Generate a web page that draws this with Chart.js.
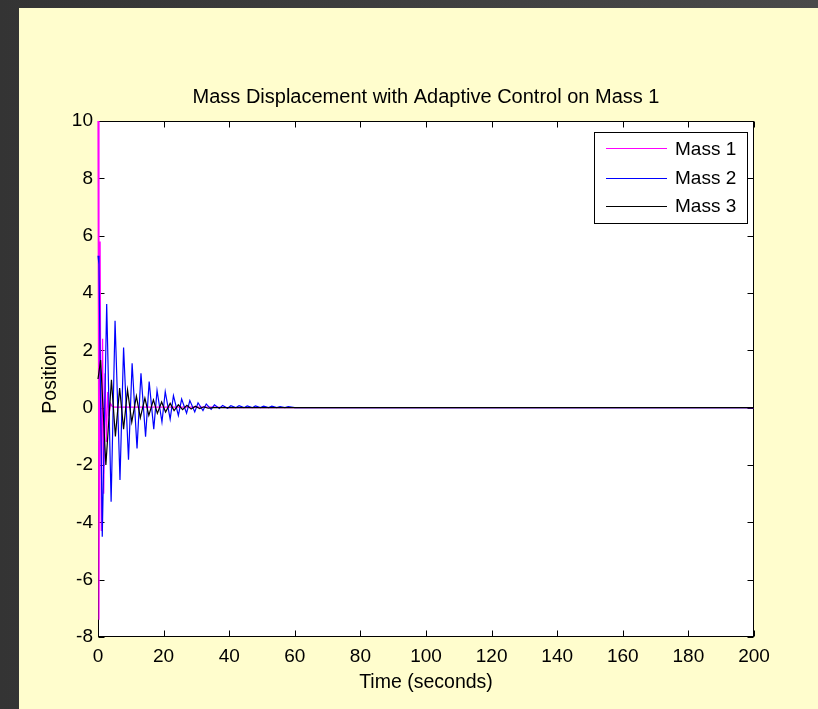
<!DOCTYPE html>
<html>
<head>
<meta charset="utf-8">
<script src="https://cdn.jsdelivr.net/npm/chart.js@4.4.1/dist/chart.umd.min.js"></script>
<style>
  html, body { margin: 0; padding: 0; background: #3d3d3d; }
  canvas { display: block; }
</style>
</head>
<body>
<canvas id="chart" width="818" height="709"></canvas>
<script>
// Mass 1: fast, strongly damped response under adaptive control
const mass1Time = [0, 0.3, 0.65, 1.0, 1.4, 1.75, 2.15, 2.55, 2.95, 3.35, 3.8, 4.3, 5, 35, 40, 200];
const mass1Pos  = [10, -7.4, 5.8, -4.3, 2.4, -3.0, 1.2, -1.2, 0.55, -0.3, 0.15, 0.05, 0.02, 0.02, 0, 0];

// Mass 2: slowly decaying oscillation
const mass2Time = [0, 0.3, 1.3, 2.65, 4.0, 5.2, 6.7, 7.8, 9.3, 10.4, 11.9, 13.1, 14.5, 15.6, 17.0, 18.0,
                   19.5, 20.5, 22.0, 23.0, 24.5, 25.5, 27.0, 28.0, 29.5, 30.5, 32.0, 33.0, 34.5, 35.5,
                   37, 38, 39.5, 40.5, 42, 43, 44.5, 45.5, 47, 48, 49.5, 50.5, 52, 53, 54.5, 55.5, 57, 58, 60, 200];
const mass2Pos  = [5.3, 5.0, -4.5, 3.62, -3.28, 3.03, -2.52, 2.1, -1.82, 1.55, -1.42, 1.2, -1.01, 0.91, -0.75, 0.6,
                   -0.5, 0.56, -0.4, 0.42, -0.27, 0.3, -0.19, 0.25, -0.15, 0.17, -0.1, 0.13, -0.06, 0.1,
                   -0.03, 0.08, -0.02, 0.07, 0, 0.07, 0, 0.06, 0, 0.06, 0, 0.05, 0, 0.05, 0, 0.04, 0, 0.04, 0, 0];

// Mass 3: smaller oscillation coupled through mass 2
const mass3Time = [0, 0.8, 2.4, 4.1, 5.3, 6.6, 7.8, 9.0, 10.3, 11.7, 12.9, 14.3, 15.5, 16.9, 18.1, 19.4,
                   20.6, 22.0, 23.2, 24.5, 25.8, 27.1, 28.4, 29.7, 31.0, 32.3, 33.6, 35, 200];
const mass3Pos  = [1.0, 1.66, -2.0, 0.97, -1.0, 0.68, -0.75, 0.62, -0.5, 0.4, -0.35, 0.33, -0.27, 0.27, -0.2, 0.2,
                   -0.15, 0.15, -0.1, 0.1, -0.07, 0.08, -0.05, 0.05, -0.03, 0.03, -0.02, 0, 0];

const seriesLabels = ['Mass 1', 'Mass 2', 'Mass 3'];
const seriesColors = ['#FF00FF', '#0000FF', '#000000'];

const xTicks = [0, 20, 40, 60, 80, 100, 120, 140, 160, 180, 200];
const yTicks = [-8, -6, -4, -2, 0, 2, 4, 6, 8, 10];

const FONT = 'Liberation Sans, Arial, Helvetica, sans-serif';
const CREAM = '#FFFDCD';

function zip(ts, vs) { return ts.map((t, i) => ({ x: t, y: vs[i] })); }

// Figure background, white axes panel, box and inward tick marks (under the data)
const axesBox = {
  id: 'axesBox',
  beforeDraw(chart) {
    const { ctx, width, height, chartArea: a } = chart;
    ctx.save();
    const g = ctx.createLinearGradient(0, 0, width, 0);
    g.addColorStop(0, '#343434');
    g.addColorStop(1, '#4a4a4a');
    ctx.fillStyle = g;
    ctx.fillRect(0, 0, width, height);
    ctx.fillStyle = CREAM;
    ctx.fillRect(19, 8, width - 19, height - 8);
    ctx.fillStyle = '#FFFFFF';
    ctx.fillRect(a.left, a.top, a.right - a.left, a.bottom - a.top);
    ctx.restore();
  },
  beforeDatasetsDraw(chart) {
    const { ctx, chartArea: a, scales } = chart;
    ctx.save();
    const L = Math.round(a.left) + 0.5, R = Math.round(a.right) - 0.5;
    const T = Math.round(a.top) + 0.5, B = Math.round(a.bottom) - 0.5;
    ctx.strokeStyle = '#000';
    ctx.lineWidth = 1;
    ctx.strokeRect(L, T, R - L, B - T);
    const tl = 6;
    ctx.beginPath();
    scales.x.ticks.forEach(t => {
      const px = Math.round(scales.x.getPixelForValue(t.value)) + 0.5;
      ctx.moveTo(px, B); ctx.lineTo(px, B - tl);
      ctx.moveTo(px, T); ctx.lineTo(px, T + tl);
    });
    scales.y.ticks.forEach(t => {
      const py = Math.round(scales.y.getPixelForValue(t.value)) + 0.5;
      ctx.moveTo(L, py); ctx.lineTo(L + tl, py);
      ctx.moveTo(R, py); ctx.lineTo(R - tl, py);
    });
    ctx.stroke();
    ctx.restore();
  }
};

// Title and legend box, drawn over the data
const overlay = {
  id: 'overlay',
  afterDraw(chart) {
    const { ctx, chartArea: a } = chart;
    ctx.save();
    ctx.fillStyle = '#000';
    ctx.font = '20px ' + FONT;
    ctx.textAlign = 'center';
    ctx.textBaseline = 'middle';
    ctx.fillText('Mass Displacement with Adaptive Control on Mass 1', (a.left + a.right) / 2, 97);

    const lx = 594.5, ly = 132.5, lw = 153, lh = 91;
    ctx.fillStyle = '#FFFFFF';
    ctx.fillRect(lx, ly, lw, lh);
    ctx.lineWidth = 1;
    ctx.strokeStyle = '#000000';
    ctx.strokeRect(lx, ly, lw, lh);
    const rows = [148, 178, 206];
    ctx.font = '19px ' + FONT;
    ctx.textAlign = 'left';
    for (let i = 0; i < seriesLabels.length; i++) {
      ctx.beginPath();
      ctx.strokeStyle = seriesColors[i];
      ctx.lineWidth = 1.2;
      ctx.moveTo(606, rows[i] + 0.5);
      ctx.lineTo(667, rows[i] + 0.5);
      ctx.stroke();
      ctx.fillStyle = '#000';
      ctx.fillText(seriesLabels[i], 675, [149, 177.5, 206][i] + 1);
    }
    ctx.restore();
  }
};

const tickFont = { family: FONT, size: 19 };
const labelFont = { family: FONT, size: 19.5 };

new Chart(document.getElementById('chart'), {
  type: 'line',
  data: {
    datasets: [
      { label: seriesLabels[0], data: zip(mass1Time, mass1Pos), borderColor: seriesColors[0], order: 3 },
      { label: seriesLabels[1], data: zip(mass2Time, mass2Pos), borderColor: seriesColors[1], order: 2 },
      { label: seriesLabels[2], data: zip(mass3Time, mass3Pos), borderColor: seriesColors[2], order: 1 }
    ]
  },
  options: {
    responsive: false,
    animation: false,
    devicePixelRatio: 1,
    datasets: { line: { borderWidth: 1.2, pointRadius: 0, tension: 0, fill: false, clip: 2 } },
    layout: { padding: { left: 0, right: 64, top: 121, bottom: 0 } },
    plugins: { legend: { display: false }, title: { display: false }, tooltip: { enabled: false } },
    scales: {
      x: {
        type: 'linear', min: 0, max: 200,
        afterBuildTicks(s) { s.ticks = xTicks.map(v => ({ value: v })); },
        ticks: { font: tickFont, color: '#000', padding: 8, maxRotation: 0 },
        grid: { display: false, drawTicks: false },
        border: { display: false },
        title: { display: true, text: 'Time (seconds)', font: labelFont, color: '#000', padding: { top: 0, bottom: 15 } },
        afterFit(s) { s.height = 72; }
      },
      y: {
        type: 'linear', min: -8, max: 10,
        afterBuildTicks(s) { s.ticks = yTicks.map(v => ({ value: v })); },
        ticks: { font: tickFont, color: '#000', padding: 5 },
        grid: { display: false, drawTicks: false },
        border: { display: false },
        title: { display: true, text: 'Position', font: labelFont, color: '#000', padding: { top: 39, bottom: 0 } },
        afterFit(s) { s.width = 98; }
      }
    }
  },
  plugins: [axesBox, overlay]
});
</script>
</body>
</html>
